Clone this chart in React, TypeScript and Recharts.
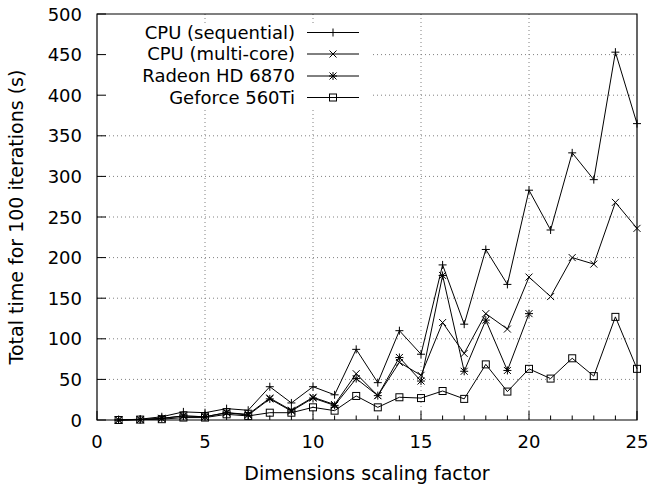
import React from 'react';
import { LineChart, Line, XAxis, YAxis, CartesianGrid, ReferenceArea, Customized } from 'recharts';

const scalingFactors = [1, 2, 3, 4, 5, 6, 7, 8, 9, 10, 11, 12, 13, 14, 15, 16, 17, 18, 19, 20, 21, 22, 23, 24, 25];
const cpuSequential = [0, 1, 4, 10, 9, 14, 12, 41, 21, 41, 31, 87, 46, 110, 81, 191, 118, 210, 167, 283, 234, 329, 296, 453, 365];
const cpuMultiCore = [0, 0.5, 2, 5, 4, 9, 7, 27, 12, 28, 19, 57, 30, 71, 55, 120, 82, 131, 112, 176, 152, 200, 192, 268, 236];
const radeonHD6870 = [0, 0.5, 2, 5, 4, 9, 6, 26, 11, 27, 18, 51, 30, 77, 48, 178, 60, 123, 61, 131];
const geforce560Ti = [0, 0.5, 1, 3, 3, 7, 5, 9, 9, 15.6, 11.5, 29.6, 15.6, 28, 27, 35.7, 26, 68.5, 35, 63, 51, 76, 54, 127, 63];

const seriesNames = ['CPU (sequential)', 'CPU (multi-core)', 'Radeon HD 6870', 'Geforce 560Ti'];
const seriesKeys = ['seq', 'multi', 'radeon', 'geforce'];
const markerKinds = ['plus', 'cross', 'star', 'square'];

const xTicks = [0, 1, 2, 3, 4, 5, 6, 7, 8, 9, 10, 11, 12, 13, 14, 15, 16, 17, 18, 19, 20, 21, 22, 23, 24, 25];
const xMajorTicks = [0, 5, 10, 15, 20, 25];
const xGridValues = [5, 10, 15, 20];
const yTicks = [0, 50, 100, 150, 200, 250, 300, 350, 400, 450, 500];
const yGridValues = [50, 100, 150, 200, 250, 300, 350, 400, 450];

const rows = scalingFactors.map((x, i) => ({
  x,
  seq: cpuSequential[i],
  multi: cpuMultiCore[i],
  radeon: radeonHD6870[i],
  geforce: geforce560Ti[i],
}));

const FONT = 'DejaVu Sans, sans-serif';

function Marker({ kind, cx, cy }: { kind: string; cx: number; cy: number }) {
  const s = 4;
  const c = 3.5;
  const stroke = '#000';
  if (kind === 'plus') {
    return (
      <g stroke={stroke} strokeWidth={1} fill="none">
        <line x1={cx - s} y1={cy} x2={cx + s} y2={cy} />
        <line x1={cx} y1={cy - s} x2={cx} y2={cy + s} />
      </g>
    );
  }
  if (kind === 'cross') {
    return (
      <g stroke={stroke} strokeWidth={1} fill="none">
        <line x1={cx - c} y1={cy - c} x2={cx + c} y2={cy + c} />
        <line x1={cx - c} y1={cy + c} x2={cx + c} y2={cy - c} />
      </g>
    );
  }
  if (kind === 'star') {
    return (
      <g stroke={stroke} strokeWidth={1} fill="none">
        <line x1={cx - s} y1={cy} x2={cx + s} y2={cy} />
        <line x1={cx} y1={cy - s} x2={cx} y2={cy + s} />
        <line x1={cx - c} y1={cy - c} x2={cx + c} y2={cy + c} />
        <line x1={cx - c} y1={cy + c} x2={cx + c} y2={cy - c} />
      </g>
    );
  }
  return <rect x={cx - 3.5} y={cy - 3.5} width={7} height={7} stroke={stroke} strokeWidth={1} fill="none" />;
}

const makeDot = (kind: string) => (props: any) => {
  const { cx, cy, index } = props;
  if (cx == null || cy == null || isNaN(cx) || isNaN(cy)) return <g key={`${kind}-${index}`} />;
  return (
    <g key={`${kind}-${index}`}>
      <Marker kind={kind} cx={cx} cy={cy} />
    </g>
  );
};

const XTick = (props: any) => {
  const { x, y, payload } = props;
  const v = payload.value;
  const major = xMajorTicks.includes(v);
  return (
    <g>
      <line x1={x} y1={y} x2={x} y2={y - (major ? 9 : 4.5)} stroke="#000" strokeWidth={1} />
      {major && (
        <text x={x} y={y + 28} textAnchor="middle" fontSize={18} fontFamily={FONT} fill="#000">
          {v}
        </text>
      )}
    </g>
  );
};

const YTick = (props: any) => {
  const { x, y, payload } = props;
  return (
    <g>
      <line x1={x} y1={y} x2={x + 9} y2={y} stroke="#000" strokeWidth={1} />
      <text x={x - 15} y={y + 6.5} textAnchor="end" fontSize={18} fontFamily={FONT} fill="#000">
        {payload.value}
      </text>
    </g>
  );
};

const LegendBox = () => {
  const rowY = [32.5, 54, 76, 97.5];
  return (
    <g>
      <rect x={98} y={23} width={272} height={87} fill="#fff" stroke="none" />
      {seriesNames.map((name, i) => (
        <g key={name}>
          <text x={295} y={rowY[i] + 6} textAnchor="end" fontSize={18} fontFamily={FONT} fill="#000">
            {name}
          </text>
          <line x1={307} y1={rowY[i]} x2={359} y2={rowY[i]} stroke="#000" strokeWidth={1} />
          <Marker kind={markerKinds[i]} cx={333} cy={rowY[i]} />
        </g>
      ))}
    </g>
  );
};

export default function App() {
  return (
    <div style={{ position: 'absolute', left: 0, top: 0, width: 651, height: 485, background: '#fff' }}>
      <LineChart
        width={651}
        height={485}
        data={rows}
        margin={{ top: 14, right: 14, left: 0, bottom: 0 }}
        style={{ fontFamily: FONT }}
      >
        <CartesianGrid
          stroke="#808080"
          strokeDasharray="1 3"
          horizontalValues={yGridValues}
          verticalValues={xGridValues}
        />
        <XAxis
          type="number"
          dataKey="x"
          domain={[0, 25]}
          ticks={xTicks}
          interval={0}
          height={65}
          tickSize={0}
          tickMargin={0}
          axisLine={false}
          tickLine={false}
          tick={<XTick />}
          label={{
            value: 'Dimensions scaling factor',
            position: 'insideBottom',
            offset: 5,
            style: { fontSize: 19, fontFamily: FONT, fill: '#000' },
          }}
        />
        <YAxis
          type="number"
          domain={[0, 500]}
          ticks={yTicks}
          interval={0}
          width={97}
          tickSize={0}
          tickMargin={0}
          axisLine={false}
          tickLine={false}
          tick={<YTick />}
          label={{
            value: 'Total time for 100 iterations (s)',
            angle: -90,
            position: 'insideLeft',
            offset: 16,
            style: { fontSize: 19, fontFamily: FONT, fill: '#000', textAnchor: 'middle' },
          }}
        />
        <Customized component={LegendBox} />
        {seriesKeys.map((k, i) => (
          <Line
            key={k}
            dataKey={k}
            name={seriesNames[i]}
            stroke="#000"
            strokeWidth={1}
            dot={makeDot(markerKinds[i])}
            activeDot={false}
            isAnimationActive={false}
            type="linear"
          />
        ))}
        <ReferenceArea x1={0} x2={25} y1={0} y2={500} fill="none" stroke="#000" strokeWidth={1.2} ifOverflow="visible" />
      </LineChart>
    </div>
  );
}
